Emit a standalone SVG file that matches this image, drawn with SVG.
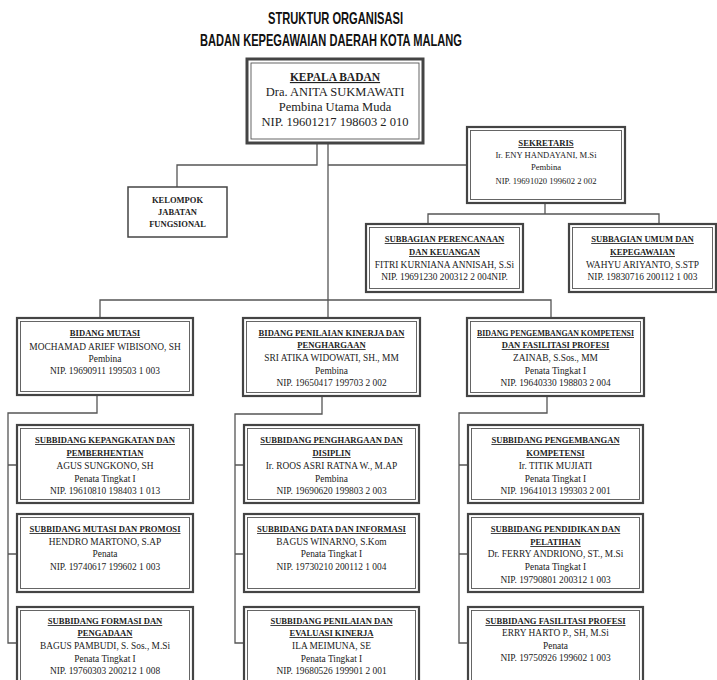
<svg xmlns="http://www.w3.org/2000/svg" width="717" height="680" viewBox="0 0 717 680">
<style>
text{font-family:"Liberation Serif","Times New Roman",serif;fill:#222;text-anchor:middle}
.t{font-family:"Liberation Sans",Arial,sans-serif;font-weight:bold;font-size:16.5px;fill:#111}
.b{font-weight:bold;text-decoration:underline;font-size:8.6px}
.r{font-size:9.4px}
.kb{font-weight:bold;text-decoration:underline;font-size:11.5px}
.kr{font-size:12.5px}
.sb{font-weight:bold;text-decoration:underline;font-size:8.7px}
.sr{font-size:8.6px}
.fb{font-weight:bold;font-size:8.5px}
.o{fill:#fff;stroke:#444;stroke-width:2.2}
.i{fill:none;stroke:#555;stroke-width:0.9}
.single{fill:#fff;stroke:#444;stroke-width:1.5}
.c{fill:none;stroke:#555;stroke-width:1.3}
</style>
<rect width="717" height="680" fill="#fff"/>
<g id="title">
<text class="t" x="335.5" y="24" textLength="135" lengthAdjust="spacingAndGlyphs">STRUKTUR ORGANISASI</text>
<text class="t" x="331" y="46" textLength="262" lengthAdjust="spacingAndGlyphs">BADAN KEPEGAWAIAN DAERAH KOTA MALANG</text>
</g>
<g id="connectors">
<path class="c" d="M317 143V165H177V187"/>
<path class="c" d="M328 143V318"/>
<path class="c" d="M328 165H467"/>
<path class="c" d="M545 203V214"/>
<path class="c" d="M428 224V214H659V224"/>
<path class="c" d="M100 318V300H551V318"/>
<path class="c" d="M97 395V413H8V643H17M8 465H17M8 554H17"/>
<path class="c" d="M322 396V414H235V643H244M235 465H244M235 554H244"/>
<path class="c" d="M547 396V413H459V643H468M459 465H468M459 554H468"/>
</g>
<g id="kepala">
<rect x="247" y="59" width="176" height="84" fill="#fff" stroke="#444" stroke-width="3"/>
<rect x="251" y="63" width="168" height="76" class="i"/>
<text class="kb" x="335" y="81">KEPALA BADAN</text>
<text class="kr" x="335" y="96">Dra. ANITA SUKMAWATI</text>
<text class="kr" x="335" y="111">Pembina Utama Muda</text>
<text class="kr" x="335" y="126">NIP. 19601217 198603 2 010</text>
</g>
<g id="kelompok">
<rect x="128" y="187" width="99" height="50" class="single"/>
<text class="fb" x="177.5" y="203">KELOMPOK</text>
<text class="fb" x="177.5" y="215">JABATAN</text>
<text class="fb" x="177.5" y="227">FUNGSIONAL</text>
</g>
<g id="sekretaris">
<rect x="467" y="127" width="158" height="76" class="o"/>
<rect x="470.5" y="130.5" width="151" height="69" class="i"/>
<text class="sb" x="546" y="146">SEKRETARIS</text>
<text class="sr" x="546" y="158">Ir. ENY HANDAYANI, M.Si</text>
<text class="sr" x="546" y="170">Pembina</text>
<text class="sr" x="546" y="184">NIP. 19691020 199602 2 002</text>
</g>
<g id="subbagian-perencanaan">
<rect x="366" y="224" width="157" height="68" class="o"/>
<rect x="369.5" y="227.5" width="150" height="61" class="i"/>
<text class="b" x="444.5" y="242">SUBBAGIAN PERENCANAAN</text>
<text class="b" x="444.5" y="255">DAN KEUANGAN</text>
<text class="r" x="444.5" y="268">FITRI KURNIANA ANNISAH, S.Si</text>
<text class="r" x="444.5" y="280">NIP. 19691230 200312 2 004NIP.</text>
</g>
<g id="subbagian-umum">
<rect x="569" y="224" width="147" height="68" class="o"/>
<rect x="572.5" y="227.5" width="140" height="61" class="i"/>
<text class="b" x="642.5" y="242">SUBBAGIAN UMUM DAN</text>
<text class="b" x="642.5" y="255">KEPEGAWAIAN</text>
<text class="r" x="642.5" y="268">WAHYU ARIYANTO, S.STP</text>
<text class="r" x="642.5" y="280">NIP. 19830716 200112 1 003</text>
</g>
<g id="bidang-mutasi">
<rect x="17" y="318" width="176" height="77" class="o"/>
<rect x="20.5" y="321.5" width="169" height="70" class="i"/>
<text class="b" x="105" y="336">BIDANG MUTASI</text>
<text class="r" x="105" y="350">MOCHAMAD ARIEF WIBISONO, SH</text>
<text class="r" x="105" y="362">Pembina</text>
<text class="r" x="105" y="374">NIP. 19690911 199503 1 003</text>
</g>
<g id="bidang-penilaian">
<rect x="243" y="318" width="177" height="78" class="o"/>
<rect x="246.5" y="321.5" width="170" height="71" class="i"/>
<text class="b" x="331.5" y="336">BIDANG PENILAIAN KINERJA DAN</text>
<text class="b" x="331.5" y="348">PENGHARGAAN</text>
<text class="r" x="331.5" y="361">SRI ATIKA WIDOWATI, SH., MM</text>
<text class="r" x="331.5" y="374">Pembina</text>
<text class="r" x="331.5" y="386">NIP. 19650417 199703 2 002</text>
</g>
<g id="bidang-pengembangan">
<rect x="467" y="318" width="177" height="78" class="o"/>
<rect x="470.5" y="321.5" width="170" height="71" class="i"/>
<text class="b" x="555.5" y="336" textLength="157" lengthAdjust="spacingAndGlyphs">BIDANG PENGEMBANGAN KOMPETENSI</text>
<text class="b" x="555.5" y="348">DAN FASILITASI PROFESI</text>
<text class="r" x="555.5" y="361">ZAINAB, S.Sos., MM</text>
<text class="r" x="555.5" y="374">Penata Tingkat I</text>
<text class="r" x="555.5" y="386">NIP. 19640330 198803 2 004</text>
</g>
<g id="subbidang-kepangkatan">
<rect x="17" y="425" width="176" height="78" class="o"/>
<rect x="20.5" y="428.5" width="169" height="71" class="i"/>
<text class="b" x="105" y="443">SUBBIDANG KEPANGKATAN DAN</text>
<text class="b" x="105" y="456">PEMBERHENTIAN</text>
<text class="r" x="105" y="469">AGUS SUNGKONO, SH</text>
<text class="r" x="105" y="482">Penata Tingkat I</text>
<text class="r" x="105" y="494">NIP. 19610810 198403 1 013</text>
</g>
<g id="subbidang-mutasi">
<rect x="17" y="514" width="176" height="78" class="o"/>
<rect x="20.5" y="517.5" width="169" height="71" class="i"/>
<text class="b" x="105" y="532">SUBBIDANG MUTASI DAN PROMOSI</text>
<text class="r" x="105" y="545">HENDRO MARTONO, S.AP</text>
<text class="r" x="105" y="557">Penata</text>
<text class="r" x="105" y="570">NIP. 19740617 199602 1 003</text>
</g>
<g id="subbidang-formasi">
<rect x="17" y="607" width="176" height="80" class="o"/>
<rect x="20.5" y="610.5" width="169" height="73" class="i"/>
<text class="b" x="105" y="624">SUBBIDANG FORMASI DAN</text>
<text class="b" x="105" y="636">PENGADAAN</text>
<text class="r" x="105" y="649">BAGUS PAMBUDI, S. Sos., M.Si</text>
<text class="r" x="105" y="662">Penata Tingkat I</text>
<text class="r" x="105" y="674">NIP. 19760303 200212 1 008</text>
</g>
<g id="subbidang-penghargaan">
<rect x="244" y="425" width="175" height="78" class="o"/>
<rect x="247.5" y="428.5" width="168" height="71" class="i"/>
<text class="b" x="331.5" y="443">SUBBIDANG PENGHARGAAN DAN</text>
<text class="b" x="331.5" y="456">DISIPLIN</text>
<text class="r" x="331.5" y="469">Ir. ROOS ASRI RATNA W., M.AP</text>
<text class="r" x="331.5" y="482">Pembina</text>
<text class="r" x="331.5" y="494">NIP. 19690620 199803 2 003</text>
</g>
<g id="subbidang-data">
<rect x="244" y="514" width="175" height="78" class="o"/>
<rect x="247.5" y="517.5" width="168" height="71" class="i"/>
<text class="b" x="331.5" y="532">SUBBIDANG DATA DAN INFORMASI</text>
<text class="r" x="331.5" y="545">BAGUS WINARNO, S.Kom</text>
<text class="r" x="331.5" y="557">Penata Tingkat I</text>
<text class="r" x="331.5" y="570">NIP. 19730210 200112 1 004</text>
</g>
<g id="subbidang-penilaian">
<rect x="244" y="607" width="175" height="80" class="o"/>
<rect x="247.5" y="610.5" width="168" height="73" class="i"/>
<text class="b" x="331.5" y="624">SUBBIDANG PENILAIAN DAN</text>
<text class="b" x="331.5" y="636">EVALUASI KINERJA</text>
<text class="r" x="331.5" y="649">ILA MEIMUNA, SE</text>
<text class="r" x="331.5" y="662">Penata Tingkat I</text>
<text class="r" x="331.5" y="674">NIP. 19680526 199901 2 001</text>
</g>
<g id="subbidang-pengembangan">
<rect x="468" y="425" width="175" height="78" class="o"/>
<rect x="471.5" y="428.5" width="168" height="71" class="i"/>
<text class="b" x="555.5" y="443">SUBBIDANG PENGEMBANGAN</text>
<text class="b" x="555.5" y="456">KOMPETENSI</text>
<text class="r" x="555.5" y="469">Ir. TITIK MUJIATI</text>
<text class="r" x="555.5" y="482">Penata Tingkat I</text>
<text class="r" x="555.5" y="494">NIP. 19641013 199303 2 001</text>
</g>
<g id="subbidang-pendidikan">
<rect x="468" y="514" width="175" height="78" class="o"/>
<rect x="471.5" y="517.5" width="168" height="71" class="i"/>
<text class="b" x="555.5" y="532">SUBBIDANG PENDIDIKAN DAN</text>
<text class="b" x="555.5" y="545">PELATIHAN</text>
<text class="r" x="555.5" y="557">Dr. FERRY ANDRIONO, ST., M.Si</text>
<text class="r" x="555.5" y="570">Penata Tingkat I</text>
<text class="r" x="555.5" y="583">NIP. 19790801 200312 1 003</text>
</g>
<g id="subbidang-fasilitasi">
<rect x="468" y="607" width="175" height="80" class="o"/>
<rect x="471.5" y="610.5" width="168" height="73" class="i"/>
<text class="b" x="555.5" y="624">SUBBIDANG FASILITASI PROFESI</text>
<text class="r" x="555.5" y="636">ERRY HARTO P., SH, M.Si</text>
<text class="r" x="555.5" y="649">Penata</text>
<text class="r" x="555.5" y="661">NIP. 19750926 199602 1 003</text>
</g>
</svg>
